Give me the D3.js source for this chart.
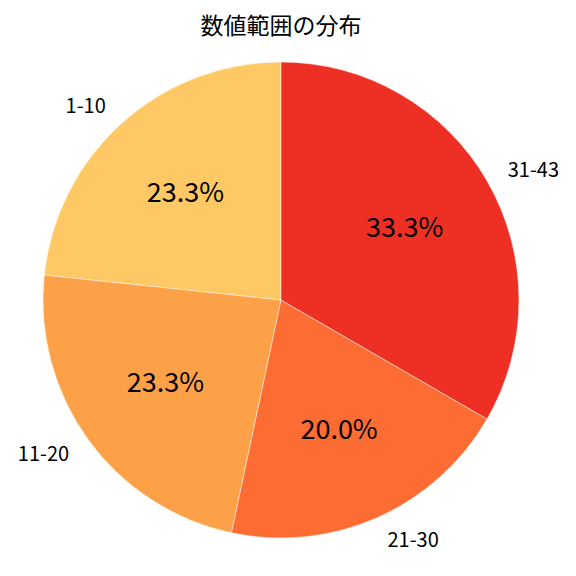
<!DOCTYPE html>
<html>
<head>
<meta charset="utf-8">
<script src="https://cdn.jsdelivr.net/npm/d3@7"></script>
<style>
  body { margin: 0; background: #fff; }
  text { font-family: "Noto Sans CJK JP", "Noto Sans", sans-serif; }
</style>
</head>
<body>
<script>
// Data
const categories = ['1-10', '11-20', '21-30', '31-43'];
const counts = [7, 7, 6, 10];
const colors = ['#FEC864', '#FCA147', '#FD6C33', '#EE3024'];
const title = '数値範囲の分布';

const width = 576;
const height = 576;
const cx = 281, cy = 300, r = 238;

const svg = d3.select('body')
  .append('svg')
  .attr('width', width)
  .attr('height', height);

svg.append('text')
  .attr('x', 281)
  .attr('y', 24)
  .attr('text-anchor', 'middle')
  .attr('dominant-baseline', 'central')
  .style('font-size', '23px')
  .text(title);

const total = d3.sum(counts);
const data = categories.map((c, i) => ({ name: c, value: counts[i], color: colors[i] }));

// counter-clockwise from 12 o'clock (matplotlib style)
const pie = d3.pie()
  .value(d => d.value)
  .sort(null)
  .startAngle(0)
  .endAngle(-2 * Math.PI);

const arcs = pie(data);
const arc = d3.arc().innerRadius(0).outerRadius(r);

const g = svg.append('g')
  .attr('transform', `translate(${cx},${cy})`);

g.selectAll('path')
  .data(arcs)
  .enter()
  .append('path')
  .attr('d', arc)
  .attr('fill', d => d.data.color)
  .attr('stroke', '#fff')
  .attr('stroke-width', 0.5);

function pos(d, k) {
  const a = (d.startAngle + d.endAngle) / 2;
  return [k * r * Math.sin(a), -k * r * Math.cos(a)];
}

g.selectAll('.label')
  .data(arcs)
  .enter()
  .append('text')
  .attr('class', 'label')
  .attr('x', d => pos(d, 1.1)[0])
  .attr('y', d => pos(d, 1.1)[1] - 1)
  .attr('text-anchor', d => pos(d, 1.1)[0] > 0 ? 'start' : 'end')
  .attr('dominant-baseline', 'central')
  .style('font-size', '20px')
  .text(d => d.data.name);

g.selectAll('.pct')
  .data(arcs)
  .enter()
  .append('text')
  .attr('class', 'pct')
  .attr('x', d => pos(d, 0.6)[0])
  .attr('y', d => pos(d, 0.6)[1] - 3)
  .attr('text-anchor', 'middle')
  .attr('dominant-baseline', 'central')
  .style('font-size', '27px')
  .text(d => (d.data.value / total * 100).toFixed(1) + '%');
</script>
</body>
</html>
